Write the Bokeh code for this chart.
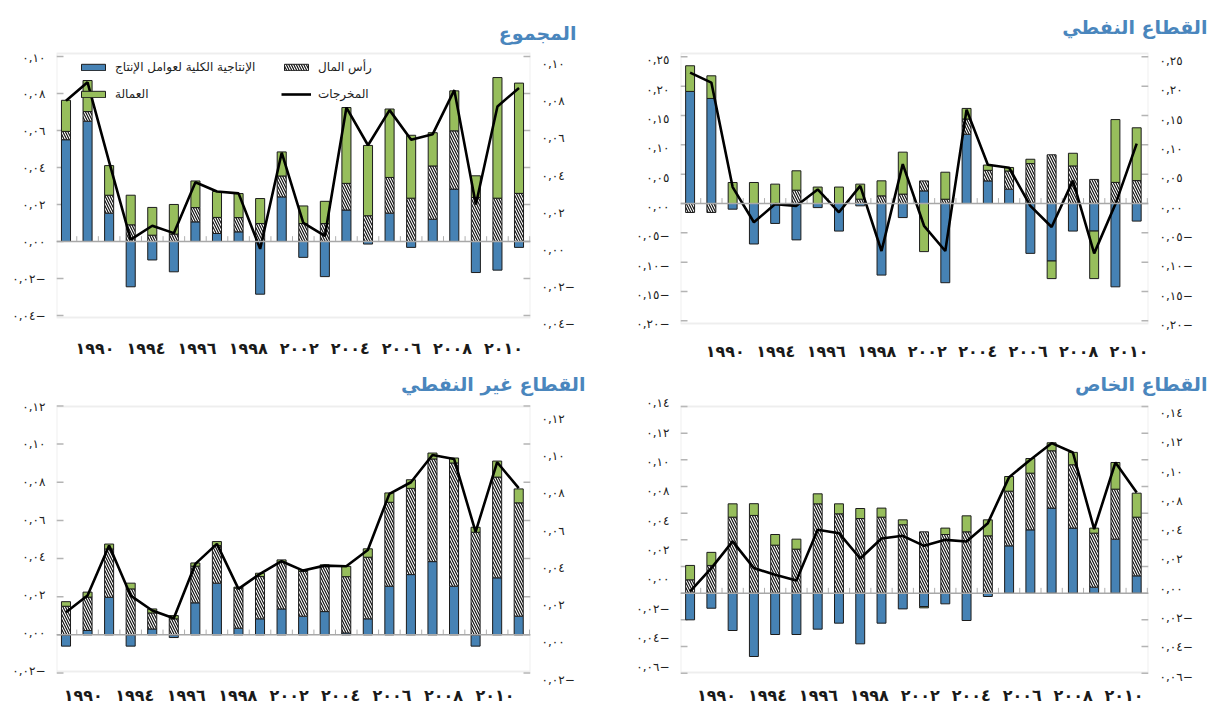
import numpy as np
from bokeh.plotting import figure
from bokeh.layouts import column, row
from bokeh.models import (Range1d, LinearAxis, FixedTicker, BoxAnnotation, Span,
                          Legend, LegendItem, Label)
from bokeh.embed import file_html
from bokeh.resources import INLINE

# ---------------- data ----------------
years = list(range(1990, 2012))
x_tick_labels = ["١٩٩٠", "١٩٩٤", "١٩٩٦", "١٩٩٨", "٢٠٠٢", "٢٠٠٤", "٢٠٠٦", "٢٠٠٨", "٢٠١٠"]
stray_label = "١"

label_tfp = "الإنتاجية الكلية لعوامل الإنتاج"
label_cap = "رأس المال"
label_lab = "العمالة"
label_out = "المخرجات"

title_total = "المجموع"
title_oil = "القطاع النفطي"
title_nonoil = "القطاع غير النفطي"
title_private = "القطاع الخاص"

# المجموع
total_tfp = [0.055, 0.065, 0.0153, -0.0245, -0.010, -0.0164, 0.0106, 0.0043, 0.0052, -0.0285, 0.0241,
             -0.0086, -0.019, 0.017, -0.0014, 0.0153, -0.0032, 0.012, 0.0283, -0.0168, -0.0155, -0.0032]
total_cap = [0.0045, 0.0052, 0.0097, 0.009, 0.0034, 0.004, 0.0077, 0.0087, 0.0077, 0.0097, 0.0113,
             0.0097, 0.0097, 0.0144, 0.0139, 0.0193, 0.0234, 0.0288, 0.0315, 0.0238, 0.0234, 0.026]
total_lab = [0.0168, 0.0168, 0.016, 0.016, 0.015, 0.016, 0.0144, 0.014, 0.013, 0.0135, 0.013,
             0.0095, 0.012, 0.041, 0.038, 0.037, 0.034, 0.018, 0.0216, 0.0117, 0.0652, 0.0596]
total_out = [0.076, 0.086, 0.043, 0.001, 0.0085, 0.0045, 0.032, 0.027, 0.026, -0.004, 0.048,
             0.010, 0.003, 0.0724, 0.052, 0.071, 0.055, 0.058, 0.0818, 0.020, 0.073, 0.083]
total_yticks = ["٠,١٠", "٠,٠٨", "٠,٠٦", "٠,٠٤", "٠,٠٢", "٠,٠٠", "٠,٠٢−", "٠,٠٤−"]

# القطاع النفطي
oil_tfp = [0.191, 0.179, -0.0097, -0.069, -0.034, -0.062, -0.007, -0.047, -0.004, -0.122, -0.024,
           0.0215, -0.135, 0.118, 0.0385, 0.0244, -0.085, -0.098, -0.047, -0.047, -0.142, -0.030]
oil_cap = [-0.0153, -0.0153, 0.0, 0.0, 0.0, 0.0227, 0.0, 0.0, 0.0074, 0.013, 0.016,
           0.017, 0.0073, 0.026, 0.018, 0.031, 0.068, 0.083, 0.064, 0.041, 0.036, 0.039]
oil_lab = [0.0437, 0.0386, 0.0358, 0.0358, 0.033, 0.033, 0.028, 0.028, 0.0256, 0.0256, 0.0715,
           -0.082, 0.046, 0.018, 0.009, 0.006, 0.0074, -0.030, 0.0216, -0.081, 0.107, 0.090]
oil_out = [0.223, 0.206, 0.028, -0.032, -0.001, -0.004, 0.024, -0.015, 0.030, -0.081, 0.067,
           -0.038, -0.081, 0.160, 0.066, 0.061, -0.004, -0.040, 0.039, -0.085, -0.001, 0.102]
oil_yticks = ["٠,٢٥", "٠,٢٠", "٠,١٥", "٠,١٠", "٠,٠٥", "٠,٠٠", "٠,٠٥−", "٠,١٠−", "٠,١٥−", "٠,٢٠−"]

# القطاع غير النفطي
nonoil_tfp = [-0.0059, 0.0023, 0.0197, -0.0059, 0.0031, -0.0014, 0.0168, 0.0271, 0.0035, 0.0084, 0.0136,
              0.0098, 0.0122, 0.001, 0.0084, 0.0255, 0.0316, 0.0384, 0.0255, -0.0059, 0.0299, 0.0098]
nonoil_cap = [0.015, 0.0175, 0.0253, 0.0241, 0.0084, 0.0084, 0.0192, 0.0197, 0.021, 0.0222, 0.0245,
              0.0234, 0.0236, 0.0295, 0.0323, 0.044, 0.0452, 0.0538, 0.0646, 0.0538, 0.0528, 0.0594]
nonoil_lab = [0.0024, 0.0026, 0.0026, 0.003, 0.0021, 0.0017, 0.0017, 0.0021, 0.0005, 0.0017, 0.0012,
              0.001, 0.0009, 0.0054, 0.0044, 0.0049, 0.0045, 0.0031, 0.0026, 0.0026, 0.0084, 0.0073]
nonoil_out = [0.0119, 0.0206, 0.0468, 0.0206, 0.0128, 0.0087, 0.0372, 0.0477, 0.0241, 0.032, 0.0386,
              0.0337, 0.0363, 0.036, 0.0445, 0.0739, 0.080, 0.0943, 0.0922, 0.054, 0.0905, 0.0769]
nonoil_yticks = ["٠,١٢", "٠,١٠", "٠,٠٨", "٠,٠٦", "٠,٠٤", "٠,٠٢", "٠,٠٠", "٠,٠٢−"]

# القطاع الخاص
private_tfp = [-0.020, -0.0113, -0.028, -0.0475, -0.031, -0.031, -0.027, -0.0225, -0.038, -0.0225, -0.0118,
               -0.010, -0.008, -0.0205, -0.0025, 0.0355, 0.0475, 0.0638, 0.0488, 0.0045, 0.0405, 0.013]
private_cap = [0.010, 0.0208, 0.057, 0.0583, 0.036, 0.033, 0.067, 0.0595, 0.056, 0.057, 0.0513,
               0.046, 0.044, 0.046, 0.043, 0.041, 0.0425, 0.043, 0.0475, 0.0405, 0.0375, 0.044]
private_lab = [0.0108, 0.0098, 0.010, 0.0088, 0.008, 0.0075, 0.0075, 0.0075, 0.0075, 0.0068, 0.0037,
               -0.001, 0.0048, 0.012, 0.012, 0.011, 0.011, 0.006, 0.0093, 0.0038, 0.020, 0.018]
private_out = [0.0013, 0.0188, 0.0388, 0.0188, 0.0138, 0.0095, 0.0475, 0.045, 0.026, 0.041, 0.043,
               0.0355, 0.040, 0.0388, 0.0525, 0.087, 0.100, 0.1125, 0.1055, 0.048, 0.098, 0.0755]
private_yticks = ["٠,١٤", "٠,١٢", "٠,١٠", "٠,٠٨", "٠,٠٤", "٠,٠٢", "٠,٠٠", "٠,٠٢−", "٠,٠٤−", "٠,٠٦−"]

# ---------------- style ----------------
BLUE = "#4682b4"
GREEN = "#97be5c"
EDGE = "#1c1c1c"
FRAME = "#c8c8c8"
TICK = "#b4b4b4"
TITLE = "#4a86bd"
FONT = "DejaVu Sans"


def stack(comps):
    n = len(comps[0])
    pos = np.zeros(n)
    neg = np.zeros(n)
    res = []
    for c in comps:
        c = np.asarray(c, dtype=float)
        b = np.where(c >= 0, pos, neg)
        t = b + c
        pos = np.where(c >= 0, t, pos)
        neg = np.where(c < 0, t, neg)
        res.append((b, t))
    return res


def panel(title, tfp, cap, lab, outp, ylabels, main_ticks, L, legend=False, extra_text=None):
    fx0, fy0, fw, fh = L["fig"]
    bl, br, bt, bb = L["box_px"]
    vt, vb = L["box_val"]
    pt, pb = L["pad"]
    ft, fb = bt - pt, bb + pb
    mbl = round(bl - fx0)
    fwid = round(br - bl)
    mbr = fw - mbl - fwid
    mbt = round(ft - fy0)
    fhei = round(fb - ft)
    mbb = fh - mbt - fhei
    s = (vt - vb) / (bb - bt)
    n = len(tfp)
    b0, bN = L["bars_px"]
    sp = (bN - b0) / (n - 1)
    xs0, xs1 = (bl - b0) / sp, (br - b0) / sp

    p = figure(frame_width=fwid, frame_height=fhei, output_backend="svg", toolbar_location=None,
               x_range=Range1d(xs0, xs1),
               y_range=Range1d(vb - pb * s, vt + pt * s),
               min_border_left=mbl, min_border_right=mbr,
               min_border_top=mbt, min_border_bottom=mbb)
    p.outline_line_color = None
    p.grid.visible = False
    p.xaxis.visible = False
    p.yaxis.visible = False

    # inner tick marks on the true scale
    tk = np.asarray(main_ticks, dtype=float)
    p.ray(x=np.full(len(tk), xs0), y=tk, length=7, length_units="screen", angle=0,
          line_color=TICK, line_width=1.5)
    p.ray(x=np.full(len(tk), xs1), y=tk, length=7, length_units="screen", angle=np.pi,
          line_color=TICK, line_width=1.5)

    # tick label axes
    nl = len(ylabels)
    for side, key in (("left", "yl"), ("right", "yr")):
        tp, bp = L[key]
        d = (bp - tp) / (nl - 1)
        rname = "lbl_" + side
        p.extra_y_ranges[rname] = Range1d(-(fb - bp) / d, (nl - 1) + (tp - ft) / d)
        ax = LinearAxis(y_range_name=rname, ticker=FixedTicker(ticks=list(range(nl))),
                        major_label_overrides={nl - 1 - i: t for i, t in enumerate(ylabels)})
        ax.axis_line_color = None
        ax.major_tick_line_color = None
        ax.minor_tick_line_color = None
        ax.major_tick_in = 0
        ax.major_tick_out = 0
        ax.major_label_standoff = L["ystand"]
        ax.major_label_text_font = FONT
        ax.major_label_text_font_size = "12px"
        ax.major_label_text_color = "#222222"
        p.add_layout(ax, side)

    # x label axis
    l0, l8 = L["xlab_px"]
    nx = len(x_tick_labels)
    dk = (l8 - l0) / (nx - 1)
    p.extra_x_ranges["xl"] = Range1d((bl - l0) / dk, (br - l0) / dk)
    xa = LinearAxis(x_range_name="xl", ticker=FixedTicker(ticks=list(range(nx))),
                    major_label_overrides={i: t for i, t in enumerate(x_tick_labels)})
    xa.axis_line_color = None
    xa.major_tick_line_color = None
    xa.minor_tick_line_color = None
    xa.major_tick_in = 0
    xa.major_tick_out = 0
    xa.major_label_standoff = L["xstand"]
    xa.major_label_text_font = FONT
    xa.major_label_text_font_size = "16px"
    xa.major_label_text_font_style = "bold"
    xa.major_label_text_color = "#1a1a1a"
    p.add_layout(xa, "below")

    # title
    p.title.text = title
    p.title.align = "right"
    p.title.offset = -(L["title_right"] - br)
    p.title.text_font = FONT
    p.title.text_font_size = "19px"
    p.title.text_font_style = "bold"
    p.title.text_color = TITLE
    p.title.standoff = L["tstand"]
    p.title.vertical_align = L.get("tvalign", "bottom")

    # frame box and zero line
    p.add_layout(BoxAnnotation(top=vt, bottom=vb, fill_alpha=0, line_color=FRAME, line_width=2))
    p.add_layout(Span(location=0, dimension="width", line_color="#a8a8a8", line_width=1.5))
    xs = np.arange(n + 1) - 0.5
    p.segment(x0=xs, x1=xs, y0=np.zeros(n + 1), y1=np.full(n + 1, 0.02 * (vt - vb)),
              line_color="#b0b0b0", line_width=1)

    x = np.arange(n)
    (b1, t1), (b2, t2), (b3, t3) = stack([tfp, cap, lab])
    w = 0.42
    r_tfp = p.vbar(x=x, bottom=b1, top=t1, width=w, fill_color=BLUE, line_color=EDGE, line_width=1)
    r_cap = p.vbar(x=x, bottom=b2, top=t2, width=w, fill_color="white", line_color=EDGE, line_width=1,
                   hatch_pattern="left_diagonal_line", hatch_color="#111111", hatch_scale=5,
                   hatch_weight=1.2)
    r_lab = p.vbar(x=x, bottom=b3, top=t3, width=w, fill_color=GREEN, line_color=EDGE, line_width=1)
    r_out = p.line(x=x, y=outp, line_color="black", line_width=2.6)

    if extra_text is not None:
        txt, px_x, px_y = extra_text
        # screen units measured from the frame's bottom-left corner
        p.add_layout(Label(x=px_x - bl, y=fb - px_y, x_units="screen", y_units="screen", text=txt,
                           text_align="center", text_baseline="middle", text_font=FONT,
                           text_font_size="13px", text_color="#666666"))

    if legend:
        lg = Legend(items=[LegendItem(label=label_tfp, renderers=[r_tfp]),
                           LegendItem(label=label_lab, renderers=[r_lab]),
                           LegendItem(label=label_cap, renderers=[r_cap]),
                           LegendItem(label=label_out, renderers=[r_out])],
                    ncols=2, orientation="vertical",
                    location=(22, fb - 104), padding=0, margin=0, spacing=7,
                    glyph_width=30, glyph_height=8, label_standoff=7, label_height=20,
                    label_width=159,
                    label_text_font=FONT, label_text_font_size="12px", label_text_color="#222222",
                    border_line_color=None, background_fill_alpha=0)
        p.add_layout(lg)
    return p


L1 = dict(fig=(0, 0, 600, 358), box_px=(55.5, 530, 52.7, 316.7), box_val=(0.1016, -0.0411),
          pad=(5, 10), bars_px=(65, 518.5), xlab_px=(94, 503), yl=(56.7, 315), yr=(63.3, 323.3),
          title_right=576, ystand=11, xstand=11, tstand=9)
L2 = dict(fig=(600, 0, 610, 358), box_px=(680, 1148, 49.3, 319.3), box_val=(0.2556, -0.2045),
          pad=(5, 5), bars_px=(689.6, 1136.2), xlab_px=(724.8, 1128.6), yl=(56, 320), yr=(56.7, 320.7),
          title_right=1207, ystand=11, xstand=13, tstand=18, tvalign="top")
L3 = dict(fig=(0, 358, 600, 345), box_px=(55.5, 530, 404.3, 669.3), box_val=(0.1197, -0.0192),
          pad=(5, 10), bars_px=(65, 518.2), xlab_px=(82.3, 494.5), yl=(404.3, 668.3), yr=(416.7, 677.5),
          title_right=585, ystand=11, xstand=4, tstand=14)
L4 = dict(fig=(600, 358, 610, 345), box_px=(680, 1148, 403.3, 669.3), box_val=(0.14, -0.0595),
          pad=(5, 6), bars_px=(689.6, 1136.2), xlab_px=(716, 1123.6), yl=(400, 664), yr=(410, 673.3),
          title_right=1207, ystand=11, xstand=7, tstand=14)

p1 = panel(title_total, total_tfp, total_cap, total_lab, total_out, total_yticks,
           [-0.04, -0.02, 0.0, 0.02, 0.04, 0.06, 0.08, 0.10], L1, legend=True)
p2 = panel(title_oil, oil_tfp, oil_cap, oil_lab, oil_out, oil_yticks,
           [-0.20, -0.15, -0.10, -0.05, 0.0, 0.05, 0.10, 0.15, 0.20, 0.25], L2,
           extra_text=(stray_label, 673, 345))
p3 = panel(title_nonoil, nonoil_tfp, nonoil_cap, nonoil_lab, nonoil_out, nonoil_yticks,
           [-0.02, 0.0, 0.02, 0.04, 0.06, 0.08, 0.10, 0.12], L3)
p4 = panel(title_private, private_tfp, private_cap, private_lab, private_out, private_yticks,
           [-0.06, -0.04, -0.02, 0.0, 0.02, 0.04, 0.06, 0.08, 0.10, 0.12, 0.14], L4)

layout = column(row(p1, p2), row(p3, p4))
open("out.html", "w").write(file_html(layout, INLINE))
